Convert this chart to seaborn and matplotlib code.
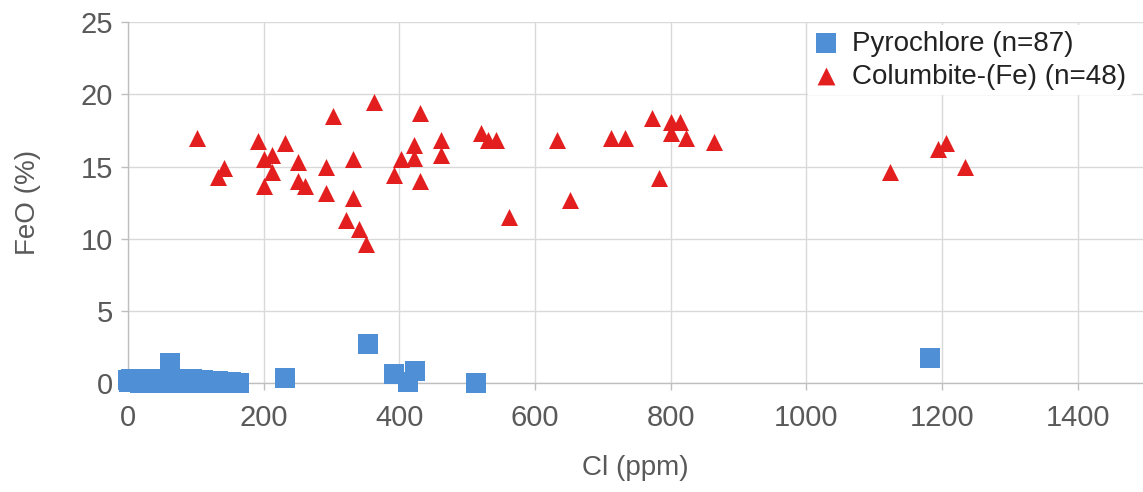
"""FeO vs Cl scatter: pyrochlore and columbite-(Fe)."""

import matplotlib
matplotlib.use("Agg")
import matplotlib.pyplot as plt
import pandas as pd
import seaborn as sns

# Pyrochlore (n=87): Cl (ppm), FeO (%)
pyro_x = [0, 2, 5, 8, 10, 12, 15, 18, 20, 22, 25, 28, 30, 32, 35, 38, 40, 42, 45, 48,
          50, 52, 55, 58, 60, 65, 68, 70, 72, 75, 78, 80, 82, 85, 88, 90, 92, 95, 98, 100,
          102, 105, 108, 110, 112, 115, 118, 120, 122, 125, 128, 130, 132, 135, 138, 140,
          142, 145, 148, 150, 152, 155, 158, 160, 162, 3, 14, 27, 44, 57, 74, 87, 97, 113,
          127, 137, 147, 157, 163,
          62, 232, 353, 392, 413, 423, 513, 1182]
pyro_y = [0.2, 0.1, 0.25, 0.05, 0.2, 0.1, 0.22, 0.0, 0.15, 0.25, 0.05, 0.2, 0.1, 0.28, 0.0,
          0.15, 0.3, 0.1, 0.25, 0.05, 0.3, 0.15, 0.2, 0.0, 0.1, 0.05, 0.2, 0.3, 0.1, 0.25,
          0.0, 0.3, 0.15, 0.2, 0.05, 0.3, 0.1, 0.25, 0.0, 0.2, 0.1, 0.15, 0.05, 0.2, 0.0,
          0.15, 0.1, 0.05, 0.15, 0.0, 0.1, 0.05, 0.12, 0.0, 0.08, 0.05, 0.0, 0.05, 0.02,
          0.0, 0.05, 0.0, 0.03, 0.0, 0.02, 0.15, 0.05, 0.1, 0.2, 0.1, 0.15, 0.1, 0.05, 0.1,
          0.05, 0.02, 0.0, 0.0, 0.0,
          1.4, 0.35, 2.7, 0.6, 0.1, 0.8, 0.0, 1.7]

# Columbite-(Fe) (n=48)
col_x = [101, 132, 142, 192, 201, 212, 212, 201, 232, 251, 251, 261, 292, 292, 302,
         331, 331, 322, 341, 351, 362, 431, 422, 422, 402, 392, 431, 462, 462, 521,
         531, 542, 562, 632, 652, 712, 733, 772, 801, 813, 801, 823, 863, 782, 1123,
         1194, 1205, 1233]
col_y = [17.0, 14.25, 14.9, 16.8, 15.5, 15.8, 14.6, 13.65, 16.6, 15.35, 14.0, 13.65,
         14.95, 13.2, 18.5, 15.5, 12.8, 11.3, 10.7, 9.6, 19.5, 18.7, 16.5, 15.6, 15.5,
         14.45, 14.0, 16.85, 15.8, 17.35, 16.85, 16.85, 11.5, 16.85, 12.7, 16.95, 16.95,
         18.35, 18.1, 18.1, 17.3, 16.95, 16.7, 14.2, 14.65, 16.2, 16.6, 14.95]

SERIES = ["Pyrochlore (n=87)", "Columbite-(Fe) (n=48)"]
BLUE = "#4f8fd6"
RED = "#e31e1e"
GRID = "#d9d9d9"
TEXT = "#595959"

sns.set_theme(style="white")
plt.rcParams["font.family"] = ["Liberation Sans", "DejaVu Sans"]

df = pd.concat([
    pd.DataFrame({"Cl": pyro_x, "FeO": pyro_y, "mineral": SERIES[0]}),
    pd.DataFrame({"Cl": col_x, "FeO": col_y, "mineral": SERIES[1]}),
])

fig = plt.figure(figsize=(11.43, 4.92), dpi=100)
ax = fig.add_axes([128 / 1143, 1 - 383 / 492, 1 - 128 / 1143, (383 - 22.3) / 492])

sns.scatterplot(data=df[df.mineral == SERIES[0]], x="Cl", y="FeO", marker="s", s=200,
                color=BLUE, linewidth=0, label=SERIES[0], ax=ax, clip_on=False, zorder=3)
sns.scatterplot(data=df[df.mineral == SERIES[1]], x="Cl", y="FeO", marker="^", s=150,
                color=RED, linewidth=0, label=SERIES[1], ax=ax, clip_on=False, zorder=3)

ax.set_xlim(0, 1496)
ax.set_ylim(0, 25)
ax.set_xticks(range(0, 1401, 200))
ax.set_yticks(range(0, 26, 5))
ax.grid(True, color=GRID, linewidth=1)
ax.set_axisbelow(True)
for side in ("top", "right"):
    ax.spines[side].set_visible(False)
for side in ("left", "bottom"):
    ax.spines[side].set_color("#bfbfbf")
    ax.spines[side].set_linewidth(1)
ax.tick_params(axis="both", direction="out", length=5, width=1, color="#bfbfbf",
               labelsize=21, labelcolor=TEXT)
ax.tick_params(axis="x", pad=10, bottom=True)
ax.tick_params(axis="y", pad=6, left=True)
ax.set_xlabel("Cl (ppm)", fontsize=20, color=TEXT, labelpad=17)
ax.set_ylabel("FeO (%)", fontsize=20, color=TEXT, labelpad=28)

leg = ax.legend(loc="upper left", bbox_to_anchor=(808 / 1143, 1 - 25 / 492),
                bbox_transform=fig.transFigure, fontsize=20, markerscale=1.05,
                frameon=True, facecolor="white", edgecolor="none", framealpha=1,
                fancybox=False, handlelength=0.9, handletextpad=0.5, labelspacing=0.25,
                borderpad=0.2, borderaxespad=0)
for t in leg.get_texts():
    t.set_color("#222222")

fig.savefig("out.png", dpi=100)
